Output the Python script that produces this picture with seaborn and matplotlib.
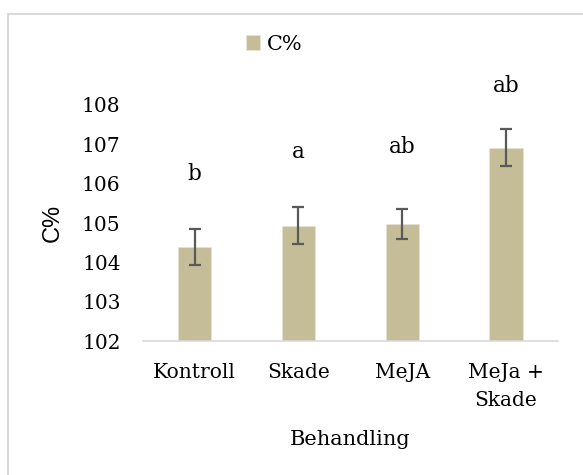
import matplotlib
matplotlib.use("Agg")
import matplotlib.pyplot as plt
from matplotlib.lines import Line2D
import seaborn as sns
import pandas as pd

# Treatments, mean C% and standard error, with significance letters
categories = ["Kontroll", "Skade", "MeJA", "MeJa +\nSkade"]
c_percent = [104.39, 104.93, 104.98, 106.91]
std_err = [0.46, 0.47, 0.38, 0.47]
letters = ["b", "a", "ab", "ab"]
letter_y = [106.25, 106.81, 106.94, 108.49]
y_ticks = [102, 103, 104, 105, 106, 107, 108]

bar_color = "#C4BD97"
err_color = "#595959"
grid_gray = "#D9D9D9"
serif = "DejaVu Serif"

sns.set_theme(style="white")
plt.rcParams["font.family"] = [serif]
plt.rcParams["text.color"] = "black"
plt.rcParams["xtick.color"] = "black"
plt.rcParams["ytick.color"] = "black"
plt.rcParams["axes.labelcolor"] = "black"

df = pd.DataFrame({"Behandling": categories, "C%": c_percent})

fig = plt.figure(figsize=(5.83, 4.75), dpi=100)
ax = fig.add_axes([0.245, 0.282, 0.712, 0.497])

sns.barplot(data=df, x="Behandling", y="C%", color=bar_color, saturation=1,
            width=0.32, edgecolor="#E8E4D4", linewidth=0.6, ax=ax, label="C%")
ax.errorbar(range(len(categories)), c_percent, yerr=std_err, fmt="none",
            ecolor=err_color, elinewidth=1.6, capsize=4.3, capthick=1.6, zorder=5)

for i, (lab, yy) in enumerate(zip(letters, letter_y)):
    ax.text(i, yy, lab, ha="center", va="center", fontsize=15.5,
            color="black", clip_on=False)

ax.set_ylim(102, 108)
ax.set_yticks(y_ticks)
ax.set_yticklabels([str(t) for t in y_ticks], fontsize=14.5)
ax.set_xlim(-0.5, len(categories) - 0.5)
ax.tick_params(axis="y", length=0, pad=16)
ax.tick_params(axis="x", length=0, pad=16, labelsize=14.5)
for lbl in ax.get_xticklabels():
    lbl.set_linespacing(1.6)

for side in ["top", "right", "left"]:
    ax.spines[side].set_visible(False)
ax.spines["bottom"].set_color(grid_gray)
ax.spines["bottom"].set_linewidth(1.2)

ax.set_xlabel("Behandling", fontsize=15, labelpad=14)
ax.set_ylabel("C%", fontsize=17, family=["Liberation Sans"], labelpad=13)

leg = ax.legend(loc="center", bbox_to_anchor=(0.47, 0.907),
                bbox_transform=fig.transFigure, frameon=False,
                fontsize=15, handlelength=0.7, handleheight=0.7,
                handletextpad=0.3)

# Light border around the chart area
fx = 8 / 583
fy = 1 - 14 / 475
fig.add_artist(Line2D([fx, fx], [0, fy], transform=fig.transFigure,
                      color=grid_gray, linewidth=1.5))
fig.add_artist(Line2D([fx, 1], [fy, fy], transform=fig.transFigure,
                      color=grid_gray, linewidth=1.5))

fig.savefig("out.png", dpi=100)
